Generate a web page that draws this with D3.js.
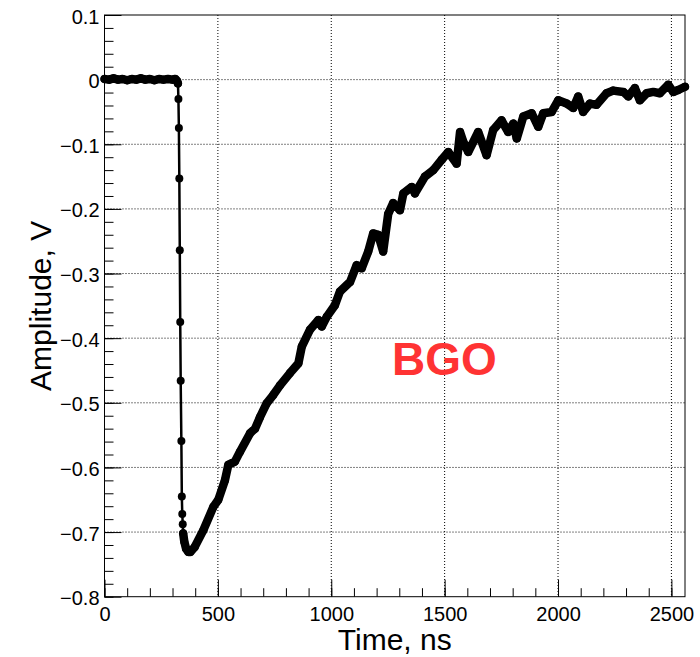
<!DOCTYPE html>
<html>
<head>
<meta charset="utf-8">
<script src="https://cdn.jsdelivr.net/npm/d3@7"></script>
<style>
body{margin:0;background:#fff;}
text{font-family:"Liberation Sans",Arial,sans-serif;}
</style>
</head>
<body>
<div class="canva"></div>
<script>
// waveform (time in ns, amplitude in V)
const timeNs = [0,20,40,60,80,100,120,140,160,180,200,220,240,260,280,300,312,320,324,
  326,328,330,332,334,336,339,341,343,345,347,
  352,360,370,378,398,436,480,502,531,546,575,597,642,664,686,715,744,774,818,855,
  870,906,943,958,980,1016,1038,1083,1112,1134,1163,1185,1207,1229,1251,1273,1303,1318,
  1355,1369,1413,1450,1487,1516,1553,1568,1582,1604,1648,1685,1714,1751,1780,1803,1818,
  1847,1884,1913,1935,1972,2001,2038,2067,2089,2111,2141,2170,2214,2243,2288,2310,2339,
  2361,2391,2420,2449,2486,2508,2530,2560];
const amplitudeV = [0.001,0.000,0.002,0.000,0.001,-0.001,0.001,0.000,0.002,0.000,0.001,-0.001,0.001,0.000,0.001,0.000,0.001,-0.002,-0.006,
  -0.030,-0.075,-0.153,-0.264,-0.375,-0.466,-0.559,-0.645,-0.672,-0.688,-0.702,
  -0.715,-0.726,-0.731,-0.731,-0.723,-0.697,-0.661,-0.650,-0.620,-0.596,-0.591,-0.576,-0.547,-0.540,-0.522,-0.501,-0.488,-0.473,-0.454,-0.439,
  -0.413,-0.387,-0.372,-0.382,-0.367,-0.349,-0.328,-0.313,-0.287,-0.292,-0.266,-0.238,-0.240,-0.266,-0.208,-0.191,-0.202,-0.176,
  -0.166,-0.176,-0.150,-0.140,-0.124,-0.112,-0.130,-0.081,-0.096,-0.112,-0.081,-0.117,-0.078,-0.063,-0.081,-0.068,-0.091,
  -0.057,-0.052,-0.073,-0.052,-0.050,-0.032,-0.037,-0.044,-0.026,-0.050,-0.037,-0.039,-0.021,-0.017,-0.019,-0.026,-0.013,
  -0.032,-0.021,-0.019,-0.021,-0.008,-0.019,-0.016,-0.011];

const xTicks = [0,500,1000,1500,2000,2500];
const yTicks = [0.1,0,-0.1,-0.2,-0.3,-0.4,-0.5,-0.6,-0.7,-0.8];
const xTitle = 'Time, ns';
const yTitle = 'Amplitude, V';
const label = 'BGO';

const svg = d3.select('.canva').append('svg')
.attr('width',700)
.attr('height',657);

const box = {left:104.5, right:685, top:15, bottom:596.7};

const x = d3.scaleLinear().domain([0,2560]).range([box.left,box.right]);
const y = d3.scaleLinear().domain([-0.8,0.1]).range([box.bottom,box.top]);

// grid (dotted, only on the major ticks)
svg.append('g').selectAll('line')
.data(xTicks.filter(d => d>0))
.enter().append('line')
.attr('x1',d=>x(d)).attr('x2',d=>x(d))
.attr('y1',box.top).attr('y2',box.bottom)
.attr('stroke','#000').attr('stroke-dasharray','1,2');

svg.append('g').selectAll('line')
.data(yTicks.filter(d => d<0.05 && d>-0.75))
.enter().append('line')
.attr('x1',box.left).attr('x2',box.right)
.attr('y1',d=>y(d)).attr('y2',d=>y(d))
.attr('stroke','#000').attr('stroke-dasharray','1,2');

// axes, ticks point inward like ROOT
const fmtY = d => Math.abs(d)<1e-9 ? '0' : d3.format('.1f')(d);

const xMinor = svg.append('g').attr('transform',`translate(0,${box.bottom})`)
.call(d3.axisBottom(x).tickValues(d3.range(0,2561,100)).tickSize(-8.5).tickFormat(''));
const xAxis = svg.append('g').attr('transform',`translate(0,${box.bottom})`)
.call(d3.axisBottom(x).tickValues(xTicks).tickSize(-17).tickPadding(10).tickFormat(d3.format('d')));

const yMinor = svg.append('g').attr('transform',`translate(${box.left},0)`)
.call(d3.axisLeft(y).tickValues(d3.range(-40,6).map(k=>k*0.02)).tickSize(-9).tickFormat(''));
const yAxis = svg.append('g').attr('transform',`translate(${box.left},0)`)
.call(d3.axisLeft(y).tickValues(yTicks).tickSize(-17).tickPadding(5).tickFormat(fmtY));

[xMinor,xAxis,yMinor,yAxis].forEach(g=>{
  g.select('.domain').remove();
  g.selectAll('line').attr('stroke','#000');
  g.selectAll('text').attr('font-size',20).attr('fill','#000')
   .attr('font-family','"Liberation Sans",Arial,sans-serif');
});
yAxis.selectAll('text').attr('dy','0.4em');

// frame
svg.append('rect')
.attr('x',box.left).attr('y',box.top)
.attr('width',box.right-box.left).attr('height',box.bottom-box.top)
.attr('fill','none').attr('stroke','#000').attr('stroke-width',1);

// trace
const pts = timeNs.map((t,i)=>({t:t, v:amplitudeV[i]}));
const line = d3.line().x(d=>x(d.t)).y(d=>y(d.v));

// dense part of the samples looks like a thick band
const dense1 = pts.filter(d=>d.t<=324);
const dense2 = pts.filter(d=>d.t>=347);
[dense1,dense2].forEach(p=>{
  svg.append('path')
  .attr('d',line(p))
  .attr('fill','none').attr('stroke','#000')
  .attr('stroke-width',8.5)
  .attr('stroke-linejoin','round').attr('stroke-linecap','round');
});

svg.append('path')
.attr('d',line(pts))
.attr('fill','none').attr('stroke','#000').attr('stroke-width',2.5);

svg.append('g').selectAll('circle')
.data(pts)
.enter().append('circle')
.attr('cx',d=>x(d.t)).attr('cy',d=>y(d.v))
.attr('r',4).attr('fill','#000');

// titles
svg.append('text')
.attr('x',(box.left+box.right)/2).attr('y',650)
.attr('text-anchor','middle').attr('font-size',30)
.text(xTitle);

svg.append('text')
.attr('transform',`translate(51,${(box.top+box.bottom)/2}) rotate(-90)`)
.attr('text-anchor','middle').attr('font-size',30)
.text(yTitle);

svg.append('text')
.attr('x',392).attr('y',375)
.attr('font-size',46).attr('font-weight','bold')
.attr('fill','#f33')
.text(label);
</script>
</body>
</html>
